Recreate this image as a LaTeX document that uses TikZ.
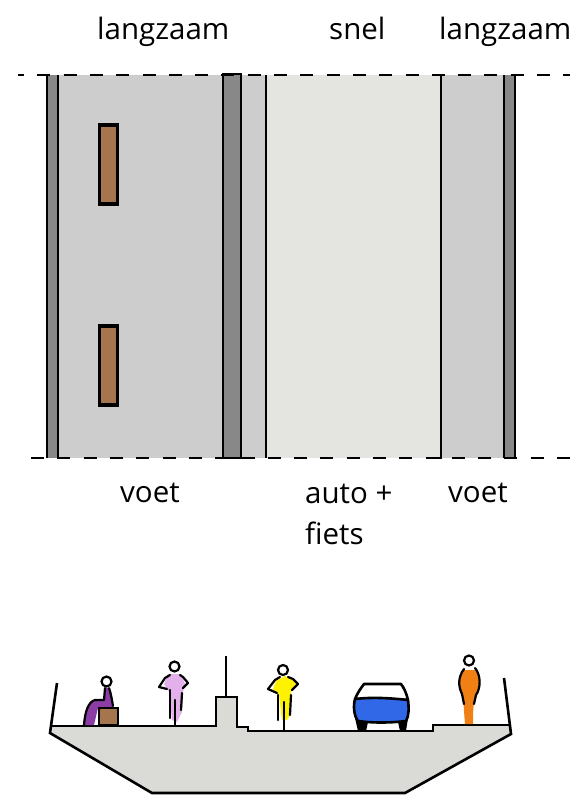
\documentclass[tikz,border=0pt]{standalone}
\usepackage{fontspec}
\setmainfont{Open Sans}
\definecolor{paving}{RGB}{205,205,205}
\definecolor{kerb}{RGB}{136,136,136}
\definecolor{road}{RGB}{228,229,224}
\definecolor{bench}{RGB}{165,118,78}
\definecolor{deck}{RGB}{218,219,215}
\definecolor{coatpurple}{RGB}{140,60,165}
\definecolor{coatpink}{RGB}{228,176,236}
\definecolor{coatorange}{RGB}{240,128,20}
\definecolor{carblue}{RGB}{48,104,232}
\tikzset{
  x=1pt,y=-1pt,
  ink/.style={draw=black,line width=2.6pt},
  thin ink/.style={draw=black,line width=2.4pt},
  boundary/.style={draw=black,line width=1.8pt,dash pattern=on 13pt off 13.3pt},
  caption/.style={font=\fontsize{29.5}{31}\selectfont,inner sep=0pt,anchor=base west},
  limb/.style={draw=black,line width=2.2pt,line join=round,line cap=round},
  head/.style={draw=black,line width=2.2pt,fill=white}
}
\begin{document}
\begin{tikzpicture}
\useasboundingbox (0,0) rectangle (570,798);

% plan view: surfaces
\fill[paving] (47,75) rectangle (266,458);
\fill[road] (266,75) rectangle (441,458);
\fill[paving] (441,75) rectangle (515,458);
\fill[kerb] (47,75) rectangle (58,458);
\fill[kerb] (223,74) rectangle (241,458);
\fill[kerb] (504,75) rectangle (515,458);

% plan view: street edges
\draw[thin ink] (47,75) -- (47,458);
\draw[thin ink] (58,75) -- (58,458);
\draw[thin ink] (223,458) -- (223,74) -- (241,74) -- (241,458);
\draw[thin ink] (266,75) -- (266,458);
\draw[thin ink] (441,75) -- (441,458) -- (428,458);
\draw[thin ink] (504,75) -- (504,458);
\draw[thin ink] (515,75) -- (515,458);
\draw[thin ink] (215,458) -- (255,458);

% plan view: section limits
\draw[boundary,dash phase=7pt] (18,75) -- (570,75);
\draw[boundary] (31,458) -- (570,458);

% plan view: benches
\node[draw=black,line width=3.2pt,fill=bench,minimum width=18pt,minimum height=79pt,inner sep=0pt] (bench1) at (108.5,164.5) {};
\node[draw=black,line width=3.2pt,fill=bench,minimum width=18pt,minimum height=79pt,inner sep=0pt] (bench2) at (108.5,365.5) {};

% plan view: captions
\node[caption] (t1) at (97,39) {langzaam};
\node[caption] (t2) at (329,39) {snel};
\node[caption] (t3) at (439,39) {langzaam};
\node[caption] (t4) at (120,502.5) {voet};
\node[caption] (t5) at (448,502.5) {voet};
\node[caption] (t6) at (305,503) {auto +};
\node[caption] (t7) at (305,544) {fiets};

% cross-section: deck
\fill[deck] (51,726) -- (216,726) -- (216,697) -- (237,697) -- (237,727) -- (248,727) -- (248,731)
  -- (433,731) -- (433,725) -- (511,725) -- (511,734) -- (405,793) -- (152,793) -- (50,733) -- cycle;
\draw[ink,line join=miter] (57,683) -- (50,733) -- (152,793) -- (405,793) -- (511,734) -- (504,678);
\draw[ink] (50,726) -- (216,726) -- (216,697) -- (237,697) -- (237,727) -- (248,727) -- (248,731)
  -- (433,731) -- (433,725) -- (510,725);
\draw[ink] (226,656) -- (226,697);

% cross-section: seated person on a box
\fill[coatpurple] (84,725) .. controls (85,712) and (89,702) .. (95,700) -- (104,700) -- (106,688)
  -- (110,688) .. controls (112,694) and (113,700) .. (113,707) -- (98,708) -- (94,725) -- cycle;
\draw[limb] (84,725) .. controls (85,712) and (88,702) .. (95,700) -- (104,700) -- (105,688);
\draw[limb] (109,688) .. controls (111,694) and (112,700) .. (113,706);
\node[ink,fill=bench,minimum width=19pt,minimum height=17pt,inner sep=0pt] (seat) at (108.5,716.5) {};
\draw[head] (106.5,681.5) circle (5);

% cross-section: pedestrian
\fill[coatpink] (168,674) -- (181,674) -- (185,684) -- (183,692) -- (182,712) -- (177,722) -- (172,720) -- (169,692) -- (164,684) -- cycle;
\draw[limb] (170,675) -- (165,678) -- (159,687) -- (167,689);
\draw[limb] (180,675) -- (183,677) -- (188,683) -- (183,688);
\draw[limb] (170,690) -- (170,718);
\draw[limb] (182,693) -- (181,710);
\draw[limb] (175,700) -- (175,725);
\draw[head] (174.5,666.5) circle (5);

% cross-section: cyclist
\fill[yellow] (276,681) -- (285,676) -- (293,680) -- (297,686) -- (291,692) -- (290,715) -- (287,720) -- (282,720) -- (279,695) -- (273,689) -- cycle;
\draw[limb] (280,677) -- (275,680) -- (268,689) -- (277,693);
\draw[limb] (288,677) -- (293,679) -- (298,684) -- (292,690);
\draw[limb] (278,695) -- (278,720);
\draw[limb] (291,695) -- (290,715);
\draw[limb] (284,702) -- (284,731);
\draw[head] (283,670) circle (5);

% cross-section: car
\fill[black] (355,718) -- (362,718) -- (368,722) -- (366,731) -- (358,731) -- cycle;
\fill[black] (398,722) -- (408,718) -- (406,731) -- (400,731) -- cycle;
\draw[ink,fill=white,line join=round] (355,699) .. controls (358,692) and (361,688) .. (364,684)
  -- (401,684) .. controls (404,688) and (406,692) .. (408,700) -- cycle;
\draw[ink,fill=carblue,line join=round] (355,699) .. controls (372,697) and (390,698) .. (408,700)
  .. controls (409,708) and (409,716) .. (406,721) .. controls (390,723) and (372,723) .. (358,721)
  .. controls (354,716) and (353,706) .. (355,699) -- cycle;

% cross-section: standing person
\fill[coatorange] (463,670) .. controls (458,678) and (458,686) .. (462,694)
  .. controls (464,704) and (464,714) .. (465,724) -- (473,724) .. controls (473,712) and (473,704) .. (476,695)
  .. controls (481,688) and (482,676) .. (476,670) -- cycle;
\draw[limb] (464,669) .. controls (458,677) and (458,686) .. (462,694) -- (464,704);
\draw[limb] (475,668) .. controls (481,675) and (481,688) .. (476,695) -- (474,704);
\draw[head] (469,660.5) circle (5);
\end{tikzpicture}
\end{document}
